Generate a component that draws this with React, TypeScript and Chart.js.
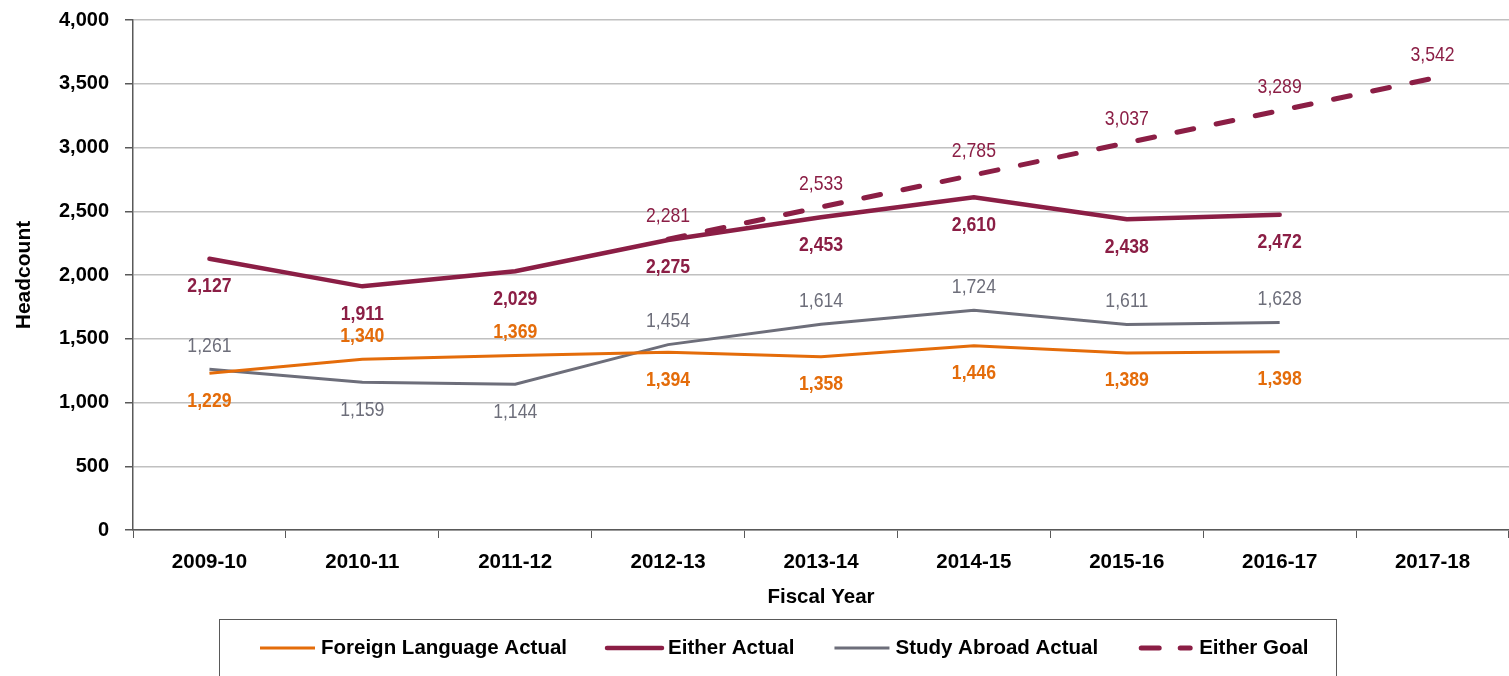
import React, { useEffect, useRef } from 'react';
import { Chart, registerables } from 'chart.js';

Chart.register(...registerables);

const categories = ['2009-10', '2010-11', '2011-12', '2012-13', '2013-14', '2014-15', '2015-16', '2016-17', '2017-18'];
const foreignLanguageActual = [1229, 1340, 1369, 1394, 1358, 1446, 1389, 1398, null];
const eitherActual = [2127, 1911, 2029, 2275, 2453, 2610, 2438, 2472, null];
const studyAbroadActual = [1261, 1159, 1144, 1454, 1614, 1724, 1611, 1628, null];
const eitherGoal = [null, null, null, 2281, 2533, 2785, 3037, 3289, 3542];
const yTickValues = [0, 500, 1000, 1500, 2000, 2500, 3000, 3500, 4000];

const foreignLabelSide = ['below', 'above', 'above', 'below', 'below', 'below', 'below', 'below', 'below'];
const eitherLabelSide = ['below', 'below', 'below', 'below', 'below', 'below', 'below', 'below', 'below'];
const studyLabelSide = ['above', 'below', 'below', 'above', 'above', 'above', 'above', 'above', 'above'];
const goalLabelSide = ['above', 'above', 'above', 'above', 'above', 'above', 'above', 'above', 'above'];

const FONT = '"Liberation Sans", Arial, sans-serif';
const ORANGE = '#E46C0A';
const MAROON = '#8B1E45';
const GRAY = '#6D6E7A';

const fmt = (v: number) => v.toLocaleString('en-US');

const dataLabelPlugin = {
  id: 'dataLabels',
  afterDatasetsDraw(chart: any) {
    const ctx = chart.ctx;
    const size = 21;
    chart.data.datasets.forEach((ds: any, di: number) => {
      const meta = chart.getDatasetMeta(di);
      const sides = ds.labelSide as string[];
      ctx.save();
      ctx.fillStyle = ds.borderColor;
      ctx.font = `${ds.labelWeight} ${size}px ${FONT}`;
      ctx.textAlign = 'center';
      ctx.textBaseline = 'alphabetic';
      meta.data.forEach((pt: any, i: number) => {
        const v = ds.data[i];
        if (v === null || v === undefined) return;
        const dy = sides[i] === 'above' ? -25 : 26;
        const cy = pt.y + dy + 0.358 * size;
        ctx.save();
        ctx.translate(pt.x, cy);
        ctx.scale(0.84, 1);
        ctx.fillText(fmt(v), 0, 0);
        ctx.restore();
      });
      ctx.restore();
    });
  },
};

const legendPlugin = {
  id: 'boxLegend',
  afterDraw(chart: any) {
    const ctx = chart.ctx;
    const boxX = 219.5;
    const boxY = 619.5;
    const boxW = 1117;
    const boxH = 80;
    ctx.save();
    ctx.strokeStyle = '#595959';
    ctx.lineWidth = 1;
    ctx.strokeRect(boxX, boxY, boxW, boxH);
    ctx.font = `bold 20.5px ${FONT}`;
    ctx.textBaseline = 'middle';
    ctx.textAlign = 'left';
    const lineLen = 55;
    const gapLT = 6;
    const gapItems = 40;
    let x = 260;
    const y = 648;
    chart.data.datasets.forEach((ds: any) => {
      const dashed = !!(ds.borderDash && ds.borderDash.length);
      ctx.strokeStyle = ds.borderColor;
      ctx.lineWidth = ds.borderWidth;
      ctx.beginPath();
      if (dashed) {
        ctx.lineCap = 'round';
        ctx.moveTo(x + 3, y);
        ctx.lineTo(x + 21, y);
        ctx.moveTo(x + 42, y);
        ctx.lineTo(x + lineLen - 3, y);
      } else {
        ctx.lineCap = ds.borderWidth > 4 ? 'round' : 'butt';
        ctx.moveTo(x, y);
        ctx.lineTo(x + lineLen, y);
      }
      ctx.stroke();
      x += lineLen + gapLT;
      ctx.fillStyle = '#000000';
      ctx.fillText(ds.label, x, y);
      x += ctx.measureText(ds.label).width + gapItems;
    });
    ctx.restore();
  },
};

export default function App() {
  const canvasRef = useRef<HTMLCanvasElement | null>(null);

  useEffect(() => {
    document.body.style.margin = '0';
    const canvas = canvasRef.current;
    if (!canvas) return;
    const chart = new Chart(canvas, {
      type: 'line',
      data: {
        labels: categories,
        datasets: [
          {
            label: 'Foreign Language Actual',
            data: foreignLanguageActual,
            borderColor: ORANGE,
            backgroundColor: ORANGE,
            borderWidth: 3,
            pointRadius: 0,
            tension: 0,
            labelSide: foreignLabelSide,
            labelWeight: 'bold',
          } as any,
          {
            label: 'Either Actual',
            data: eitherActual,
            borderColor: MAROON,
            backgroundColor: MAROON,
            borderWidth: 4.5,
            borderCapStyle: 'round',
            pointRadius: 0,
            tension: 0,
            labelSide: eitherLabelSide,
            labelWeight: 'bold',
          } as any,
          {
            label: 'Study Abroad Actual',
            data: studyAbroadActual,
            borderColor: GRAY,
            backgroundColor: GRAY,
            borderWidth: 3,
            pointRadius: 0,
            tension: 0,
            labelSide: studyLabelSide,
            labelWeight: 'normal',
          } as any,
          {
            label: 'Either Goal',
            data: eitherGoal,
            borderColor: MAROON,
            backgroundColor: MAROON,
            borderWidth: 5,
            borderDash: [17, 23],
            borderCapStyle: 'round',
            pointRadius: 0,
            tension: 0,
            spanGaps: false,
            labelSide: goalLabelSide,
            labelWeight: 'normal',
          } as any,
        ],
      },
      options: {
        animation: false,
        responsive: false,
        maintainAspectRatio: false,
        layout: { padding: { top: 20, right: 0, left: 0, bottom: 66 } },
        plugins: {
          legend: { display: false },
          tooltip: { enabled: false },
        },
        scales: {
          x: {
            type: 'category',
            offset: true,
            grid: {
              display: true,
              drawOnChartArea: false,
              drawTicks: true,
              offset: true,
              tickLength: 8,
              tickColor: '#595959',
            },
            border: { display: true, color: '#595959', width: 1.5 },
            ticks: {
              color: '#000000',
              font: { family: FONT, size: 20.5, weight: 'bold' },
              padding: 12,
              maxRotation: 0,
              autoSkip: false,
            },
            title: {
              display: true,
              text: 'Fiscal Year',
              color: '#000000',
              font: { family: FONT, size: 20.5, weight: 'bold' },
              padding: { top: 0, bottom: 0 },
            },
            afterFit: (scale: any) => {
              scale.height = 80;
              scale.paddingLeft = 0;
              scale.paddingRight = 0;
            },
          },
          y: {
            min: 0,
            max: 4000,
            afterBuildTicks: (scale: any) => {
              scale.ticks = yTickValues.map((v) => ({ value: v }));
            },
            grid: {
              color: '#C0C0C0',
              lineWidth: 1.5,
              drawTicks: true,
              tickLength: 8,
              tickColor: '#595959',
            },
            border: { display: true, color: '#595959', width: 1.5 },
            ticks: {
              color: '#000000',
              font: { family: FONT, size: 20, weight: 'bold' },
              padding: 16,
              callback: (v: any) => fmt(Number(v)),
            },
            title: {
              display: true,
              text: 'Headcount',
              color: '#000000',
              font: { family: FONT, size: 21, weight: 'bold' },
              padding: { top: 12, bottom: 0 },
            },
            afterFit: (scale: any) => {
              scale.width = 133;
              scale.paddingTop = 0;
              scale.paddingBottom = 0;
            },
          },
        },
      },
      plugins: [dataLabelPlugin, legendPlugin],
    });
    return () => chart.destroy();
  }, []);

  return (
    <div style={{ position: 'fixed', left: 0, top: 0, width: 1509, height: 676, background: '#ffffff' }}>
      <canvas ref={canvasRef} width={1509} height={676} style={{ width: 1509, height: 676 }} />
    </div>
  );
}
